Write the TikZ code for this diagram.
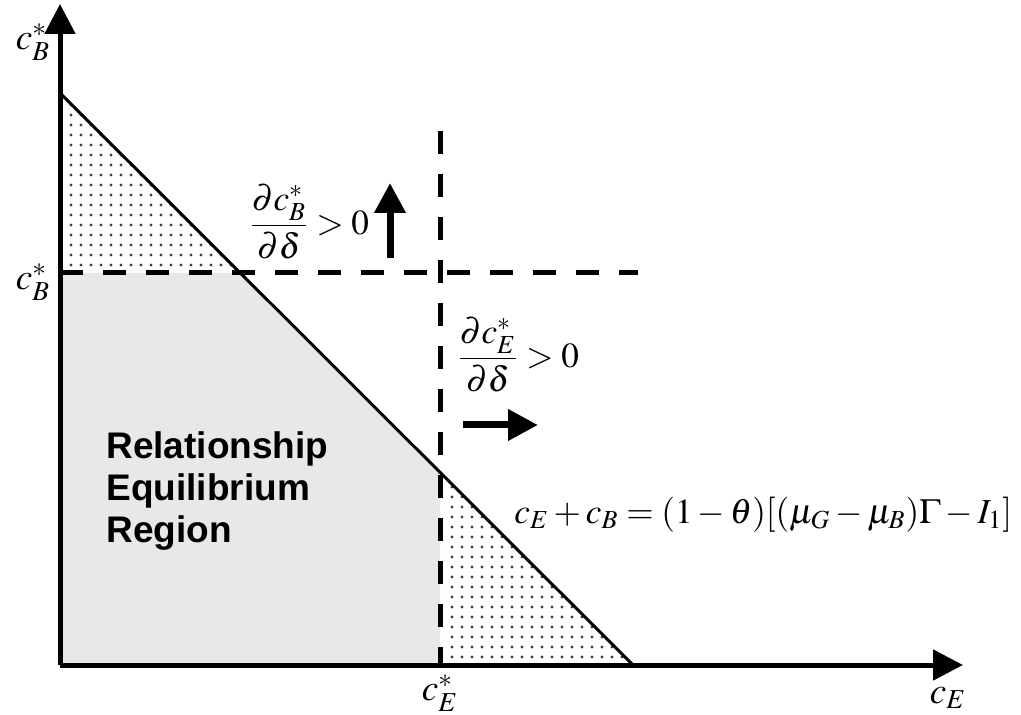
\documentclass[tikz,border=0pt]{standalone}
\usepackage{amsmath}
\usepackage{mathptmx}
\usepackage{fontspec}
\setmainfont{Liberation Serif}
\setsansfont{Liberation Sans}
\usepackage{xcolor}
\definecolor{reqfill}{HTML}{E8E8E8}
\definecolor{reqdot}{HTML}{404040}
\usepackage{tikz}
\usetikzlibrary{arrows.meta,positioning,calc}
\tikzset{
  reqaxis/.style={line width=2.5pt,-{Triangle[length=15pt,width=15pt]}},
  reqdash/.style={line width=2.5pt,dash pattern=on 11.5pt off 10pt},
  reqline/.style={line width=1.5pt},
  reqmove/.style={line width=3.5pt,-{Triangle[length=15pt,width=15pt]}},
  reqmath/.style={inner sep=0pt,font=\fontsize{18.5}{22}\selectfont},
  reqeq/.style={inner sep=0pt,font=\fontsize{17.6}{21}\selectfont},
  reqtext/.style={inner sep=0pt,align=left,font=\sffamily\bfseries\fontsize{18.5}{21}\selectfont},
}

\begin{document}
\begin{tikzpicture}[x=0.5pt,y=-0.5pt]
 % frame of the picture, in pixels of the reference
\useasboundingbox (0,0) rectangle (1021,715);
\coordinate (o) at (60,665);
\coordinate (ytop) at (60,4);
\coordinate (xend) at (963,665);
\coordinate (bcut) at (60,93);
\coordinate (ecut) at (633,665);
\coordinate (bstar) at (60,273);
\coordinate (bmeet) at (240,273);
\coordinate (bend) at (638,273);
\coordinate (etop) at (440,131);
\coordinate (emeet) at (440,473);
\coordinate (estar) at (440,665);
 % regions
\fill[reqfill] (bstar) -- (bmeet) -- (emeet) -- (estar) -- (o) -- cycle;
\begin{scope}
\clip (bcut) -- (bstar) -- (bmeet) -- cycle;
\foreach \x in {71,81,...,241} \foreach \y in {95,105,...,275} \fill[reqdot] (\x,\y) circle (0.8pt);
\end{scope}
\begin{scope}
\clip (emeet) -- (estar) -- (ecut) -- cycle;
\foreach \x in {452,462,...,632} \foreach \y in {477,487,...,667} \fill[reqdot] (\x,\y) circle (0.8pt);
\end{scope}
 % levels
\draw[reqdash] (bstar) -- (bend);
\draw[reqdash] (etop) -- (estar);
\draw[reqline] (bcut) -- (ecut);
\draw[reqaxis] (o) -- (ytop);
\draw[reqaxis] (o) -- (xend);
 % shifts
\coordinate (upfoot) at (390,258);
\coordinate (uptip) at (390,183);
\coordinate (rtfoot) at (463,425);
\coordinate (rttip) at (538,425);
\draw[reqmove] (upfoot) -- (uptip);
\draw[reqmove] (rtfoot) -- (rttip);
 % labels
\node[reqmath] (ylab) at (33,42) {$c_B^*$};
\node[reqmath] (blab) at (33,282) {$c_B^*$};
\node[reqmath] (elab) at (440,693) {$c_E^*$};
\node[reqmath] (xlab) at (948,698) {$c_E$};
\node[reqeq,anchor=west] (dB) at (249,222) {$\dfrac{\partial c_B^*}{\partial\delta}>0$};
\node[reqeq,anchor=west] (dE) at (457,355) {$\dfrac{\partial c_E^*}{\partial\delta}>0$};
\node[reqeq,anchor=base west] (budget) at (514,523) {$c_E+c_B=(1-\theta)[(\mu_G-\mu_B)\Gamma-I_1]$};
\node[reqtext,anchor=north west] (region) at (106,431) {Relationship\\Equilibrium\\Region};
\end{tikzpicture}
\end{document}
